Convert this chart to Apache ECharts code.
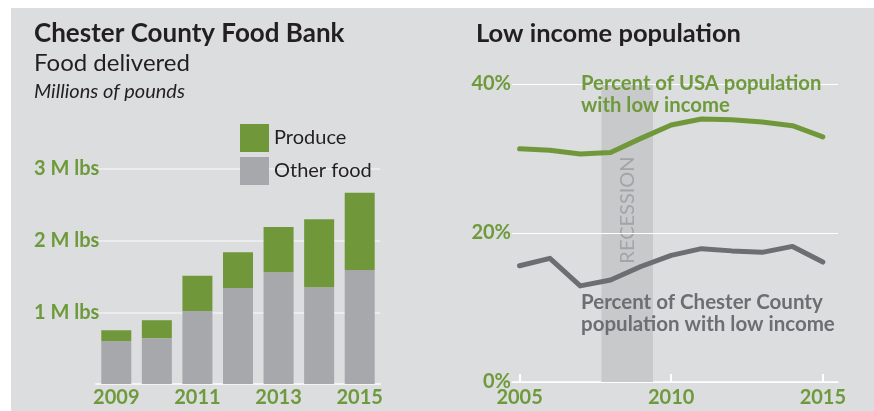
<!DOCTYPE html>
<html>
<head>
<meta charset="utf-8">
<script src="https://cdn.jsdelivr.net/npm/echarts@6/dist/echarts.min.js"></script>
<style>
  body { margin: 0; background: #fff; }
  .panel { position: absolute; left: 11px; top: 8px; width: 863px; height: 403px; background: #dcdddf; }
  #chart { position: absolute; left: 0; top: 0; width: 874px; height: 411px; }
</style>
</head>
<body>
<div class="panel"></div>
<div id="chart"></div>
<script>
// Food bank (millions of pounds)
const bankYears = ["2009", "2010", "2011", "2012", "2013", "2014", "2015"];
const otherFood = [0.60, 0.64, 1.02, 1.34, 1.56, 1.35, 1.59];
const produce = [0.15, 0.25, 0.49, 0.50, 0.63, 0.95, 1.08];

// Low income population (%)
const popYears = [2005, 2006, 2007, 2008, 2009, 2010, 2011, 2012, 2013, 2014, 2015];
const usaPct = [31.3, 31.1, 30.6, 30.8, 32.7, 34.5, 35.3, 35.2, 34.9, 34.4, 32.9];
const countyPct = [15.6, 16.6, 12.9, 13.7, 15.5, 17.0, 17.9, 17.6, 17.4, 18.2, 16.1];
const popYearTicks = [2005, 2010, 2015];
const recession = [2007.7, 2009.4];

const green = "#70983b";
const textGreen = "#6e9a3c";
const darkGray = "#6d6e71";
const barGray = "#a7a8ab";
const font = "Lato";

const chart = echarts.init(document.getElementById("chart"), null, { renderer: "canvas" });

const titleStyle = (size, weight, style) => ({
  fontFamily: font, fontSize: size, fontWeight: weight, fontStyle: style || "normal", color: "#231f20"
});

const tickFont = { color: textGreen, fontSize: 20, fontWeight: "bold", fontFamily: font };

chart.setOption({
  animation: false,
  textStyle: { fontFamily: font },
  title: [
    { text: "Chester County Food Bank", left: 34, top: 21, padding: 0, textStyle: titleStyle(26, "bold") },
    { text: "Food delivered", left: 34, top: 51, padding: 0, textStyle: titleStyle(24, "normal") },
    { text: "Millions of pounds", left: 34, top: 82, padding: 0, textStyle: titleStyle(20, "normal", "italic") },
    { text: "Low income population", left: 476, top: 21, padding: 0, textStyle: titleStyle(25.5, "bold") }
  ],
  legend: {
    data: ["Produce", "Other food"],
    orient: "vertical",
    left: 240,
    top: 124,
    padding: 0,
    itemWidth: 29,
    itemHeight: 28,
    itemGap: 5,
    icon: "rect",
    textStyle: { fontSize: 20, color: "#231f20", fontFamily: font }
  },
  grid: [
    { left: 96, top: 169, width: 284, height: 215 },
    { left: 512, top: 84, width: 326, height: 298 }
  ],
  xAxis: [
    {
      type: "category",
      gridIndex: 0,
      data: bankYears,
      axisTick: { show: false },
      axisLine: { lineStyle: { color: "#f4f4f4", width: 2 } },
      axisLabel: Object.assign({ interval: 1, margin: 4 }, tickFont)
    },
    {
      type: "value",
      gridIndex: 1,
      min: 2004.75,
      max: 2015.5,
      splitLine: { show: false },
      axisLine: { lineStyle: { color: "#ffffff", width: 1.5 } },
      axisTick: { customValues: popYearTicks, inside: true, length: 8, lineStyle: { color: "#ffffff", width: 2 } },
      axisLabel: Object.assign({ customValues: popYearTicks, margin: 6, formatter: (v) => String(v) }, tickFont)
    }
  ],
  yAxis: [
    {
      type: "value",
      gridIndex: 0,
      min: 0,
      max: 3,
      interval: 1,
      axisLine: { show: false },
      axisTick: { show: false },
      splitLine: { lineStyle: { color: "#f1f1f2", width: 1.5 } },
      axisLabel: Object.assign({
        align: "left", margin: 62,
        formatter: (v) => (v === 0 ? "" : v + " M lbs")
      }, tickFont)
    },
    {
      type: "value",
      gridIndex: 1,
      min: 0,
      max: 40,
      interval: 20,
      z: 3,
      axisLine: { show: false },
      axisTick: { show: false },
      splitLine: { lineStyle: { color: "#ffffff", width: 1 } },
      axisLabel: Object.assign({ margin: 1, formatter: "{value}%" }, tickFont)
    }
  ],
  series: [
    {
      name: "Other food",
      type: "bar",
      stack: "food",
      xAxisIndex: 0,
      yAxisIndex: 0,
      barWidth: 30,
      data: otherFood,
      itemStyle: { color: barGray }
    },
    {
      name: "Produce",
      type: "bar",
      stack: "food",
      xAxisIndex: 0,
      yAxisIndex: 0,
      barWidth: 30,
      data: produce,
      itemStyle: { color: green }
    },
    {
      name: "USA",
      type: "line",
      z: 4,
      xAxisIndex: 1,
      yAxisIndex: 1,
      data: popYears.map((y, i) => [y, usaPct[i]]),
      symbol: "none",
      lineStyle: { color: green, width: 5, cap: "round", join: "round" },
      markArea: {
        silent: true,
        z: 1,
        itemStyle: { color: "#c8c9cb" },
        label: {
          show: true, position: "inside", rotate: 90, offset: [23, 0],
          color: "#a3a4a7", fontSize: 20, fontFamily: font
        },
        data: [[{ name: "RECESSION", xAxis: recession[0], yAxis: 0 }, { xAxis: recession[1], yAxis: 40 }]]
      }
    },
    {
      name: "County",
      type: "line",
      z: 4,
      xAxisIndex: 1,
      yAxisIndex: 1,
      data: popYears.map((y, i) => [y, countyPct[i]]),
      symbol: "none",
      lineStyle: { color: darkGray, width: 5, cap: "round", join: "round" }
    }
  ],
  graphic: [
    {
      type: "text", left: 581, top: 72, z: 10,
      style: { text: "Percent of USA population\nwith low income", fill: textGreen, font: "bold 20.3px Lato", lineHeight: 22 }
    },
    {
      type: "text", left: 581, top: 291, z: 10,
      style: { text: "Percent of Chester County\npopulation with low income", fill: darkGray, font: "bold 20.5px Lato", lineHeight: 22 }
    }
  ]
});
</script>
</body>
</html>
